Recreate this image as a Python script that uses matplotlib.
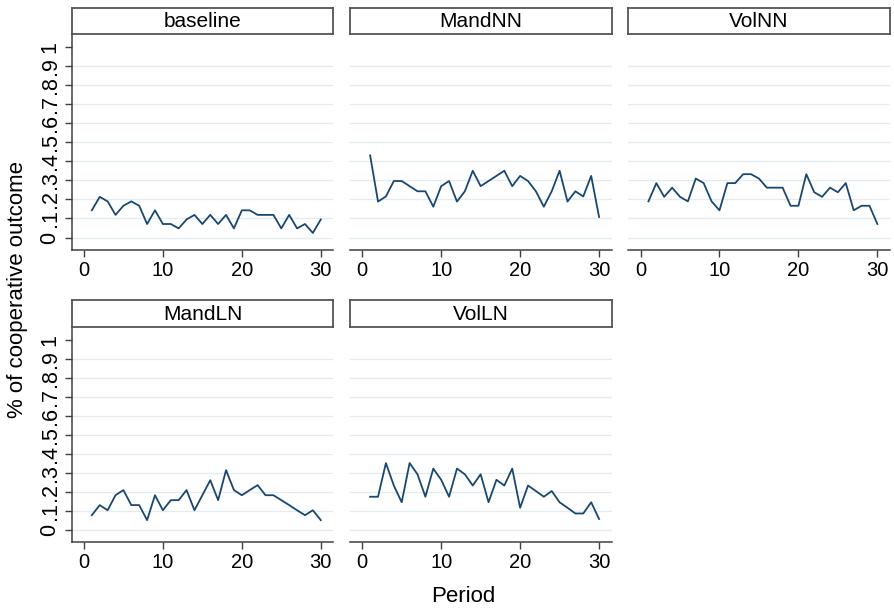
import numpy as np
import matplotlib
matplotlib.use("Agg")
import matplotlib.pyplot as plt

plt.rcParams['font.family'] = ['Liberation Sans', 'DejaVu Sans']

periods = np.arange(1, 31)

baseline = [0.143, 0.214, 0.190, 0.119, 0.167, 0.190, 0.167, 0.071, 0.143, 0.071,
            0.071, 0.048, 0.095, 0.119, 0.071, 0.119, 0.071, 0.119, 0.048, 0.143,
            0.143, 0.119, 0.119, 0.119, 0.048, 0.119, 0.048, 0.071, 0.024, 0.095]
mand_nn = [0.432, 0.189, 0.216, 0.297, 0.297, 0.270, 0.243, 0.243, 0.162, 0.270,
           0.297, 0.189, 0.243, 0.351, 0.270, 0.297, 0.324, 0.351, 0.270, 0.324,
           0.297, 0.243, 0.162, 0.243, 0.351, 0.189, 0.243, 0.216, 0.324, 0.108]
vol_nn = [0.190, 0.286, 0.214, 0.262, 0.214, 0.190, 0.310, 0.286, 0.190, 0.143,
          0.286, 0.286, 0.333, 0.333, 0.310, 0.262, 0.262, 0.262, 0.167, 0.167,
          0.333, 0.238, 0.214, 0.262, 0.238, 0.286, 0.143, 0.167, 0.167, 0.071]
mand_ln = [0.079, 0.132, 0.105, 0.184, 0.211, 0.132, 0.132, 0.053, 0.184, 0.105,
           0.158, 0.158, 0.211, 0.105, 0.184, 0.263, 0.158, 0.316, 0.211, 0.184,
           0.211, 0.237, 0.184, 0.184, 0.158, 0.132, 0.105, 0.079, 0.105, 0.053]
vol_ln = [0.176, 0.176, 0.353, 0.235, 0.147, 0.353, 0.294, 0.176, 0.324, 0.265,
          0.176, 0.324, 0.294, 0.235, 0.294, 0.147, 0.265, 0.235, 0.324, 0.118,
          0.235, 0.206, 0.176, 0.206, 0.147, 0.118, 0.088, 0.088, 0.147, 0.059]

treatments = ["baseline", "MandNN", "VolNN", "MandLN", "VolLN"]
series = [baseline, mand_nn, vol_nn, mand_ln, vol_ln]

yticks = np.arange(0, 1.01, 0.1)
ytick_labels = ["0", ".1", ".2", ".3", ".4", ".5", ".6", ".7", ".8", ".9", "1"]
xticks = [0, 10, 20, 30]

W, H = 895, 612
fig = plt.figure(figsize=(W / 100, H / 100), dpi=100)

col_left = [71.7, 350.0, 628.3]
panel_w = 261.7
row_top = [34.0, 326.7]     # top of plotting region (px from top)
panel_h = 215.5
strip_h = 26.5

line_col = "#1a476f"
grid_col = "#e3edf0"
axis_col = "#404040"

for i, (name, vals) in enumerate(zip(treatments, series)):
    r, c = divmod(i, 3)
    x0 = col_left[c] / W
    y0 = (H - row_top[r] - panel_h) / H
    ax = fig.add_axes([x0, y0, panel_w / W, panel_h / H])
    ax.plot(periods, vals, color=line_col, lw=1.3)
    ax.set_xlim(-1.55, 31.6)
    ax.set_ylim(-0.063, 1.07)
    ax.set_yticks(yticks)
    ax.set_xticks(xticks)
    ax.set_xticklabels([str(t) for t in xticks], fontsize=14.5)
    ax.tick_params(axis="both", length=5, width=1, color=axis_col, pad=3)
    ax.grid(axis="y", color=grid_col, lw=1)
    ax.get_ygridlines()[-1].set_visible(False)
    ax.set_axisbelow(True)
    for side in ["top", "right"]:
        ax.spines[side].set_visible(False)
    ax.spines["bottom"].set_color(axis_col)
    ax.spines["bottom"].set_linewidth(1.1)
    if c == 0:
        ax.set_yticklabels(ytick_labels, rotation=90, va="center", fontsize=15.5)
        ax.spines["left"].set_color(axis_col)
        ax.spines["left"].set_linewidth(1.1)
    else:
        # y axis is shared, only the first column carries it
        ax.spines["left"].set_visible(False)
        ax.tick_params(axis="y", left=False, labelleft=False)

    # header strip with treatment name
    sy0 = (H - row_top[r]) / H
    sax = fig.add_axes([x0, sy0, panel_w / W, strip_h / H])
    sax.set_xticks([])
    sax.set_yticks([])
    for sp in sax.spines.values():
        sp.set_color("#555555")
        sp.set_linewidth(1.3)
    sax.text(0.5, 0.47, name, ha="center", va="center", fontsize=15,
             transform=sax.transAxes)

fig.text(18 / W, 1 - 290 / H, "% of cooperative outcome", rotation=90,
         ha="center", va="center", fontsize=16)
fig.text(463 / W, 1 - 596 / H, "Period", ha="center", va="center", fontsize=16)

fig.savefig("out.png", dpi=100, facecolor="white")
